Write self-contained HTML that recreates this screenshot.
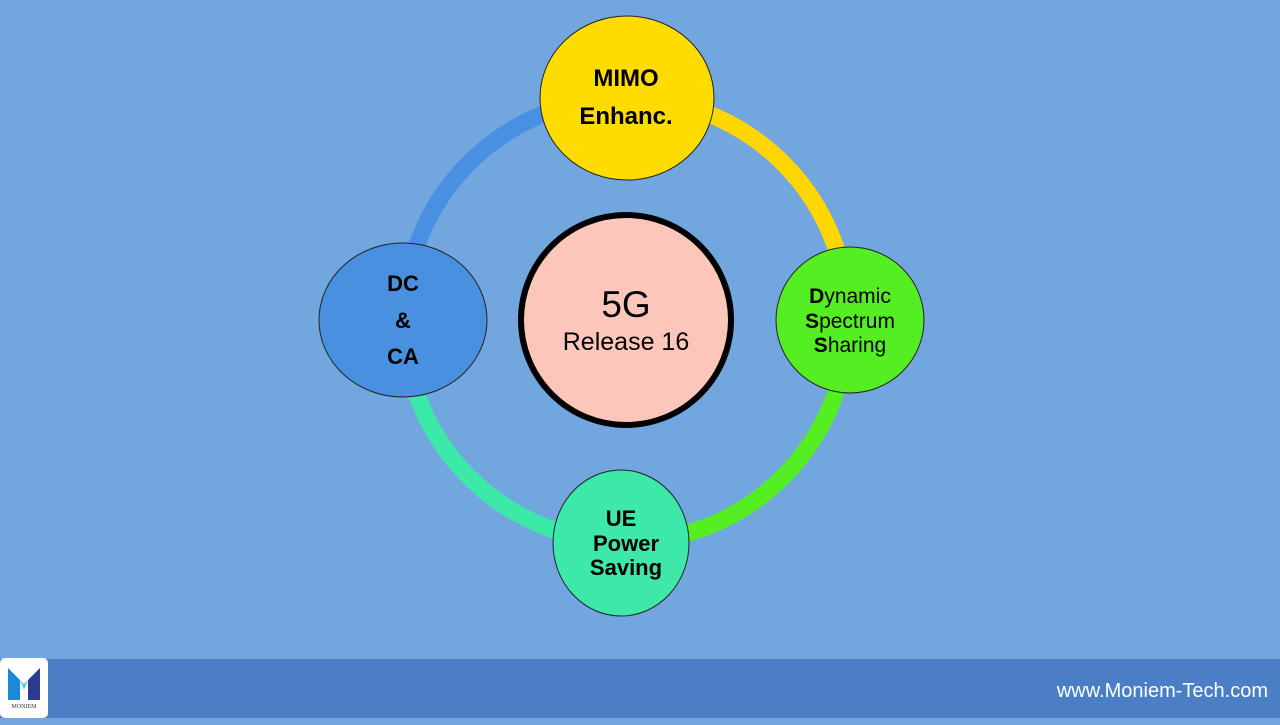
<!DOCTYPE html>
<html><head><meta charset="utf-8"><style>
html,body{margin:0;padding:0;}
body{width:1280px;height:720px;overflow:hidden;background:#72a6de;font-family:"Liberation Sans",sans-serif;}
</style></head><body>
<svg width="1280" height="720" viewBox="0 0 1280 720" xmlns="http://www.w3.org/2000/svg">
<rect width="1280" height="720" fill="#72a6de"/>
<g fill="none" stroke-width="17">
<path d="M404 320 A222 222 0 0 1 626 98" stroke="#4a90e2"/>
<path d="M626 98 A222 222 0 0 1 848 320" stroke="#ffd600"/>
<path d="M848 320 A222 222 0 0 1 626 542" stroke="#55ee22"/>
<path d="M626 542 A222 222 0 0 1 404 320" stroke="#3ceaa8"/>
</g>
<ellipse cx="627" cy="98" rx="87" ry="82" fill="#ffdc00" stroke="#222" stroke-width="1"/>
<ellipse cx="403" cy="320" rx="84" ry="77" fill="#4a90e0" stroke="#222" stroke-width="1"/>
<ellipse cx="850" cy="320" rx="74" ry="73" fill="#55ee22" stroke="#222" stroke-width="1"/>
<ellipse cx="621" cy="543" rx="68" ry="73" fill="#3de8a8" stroke="#222" stroke-width="1"/>
<circle cx="626" cy="320" r="105" fill="#fcc6bb" stroke="#000" stroke-width="6"/>
<g font-weight="bold" fill="#000" text-anchor="middle" font-size="24">
<text x="626" y="86">MIMO</text>
<text x="626" y="124">Enhanc.</text>
<text x="403" y="291" font-size="22">DC</text>
<text x="403" y="328" font-size="22">&amp;</text>
<text x="403" y="364" font-size="22">CA</text>
<text x="621" y="526" font-size="22">UE</text>
<text x="626" y="551" font-size="22">Power</text>
<text x="626" y="575" font-size="22">Saving</text>
</g>
<g fill="#000" text-anchor="middle" font-size="21">
<text x="850" y="303"><tspan font-weight="bold">D</tspan>ynamic</text>
<text x="850" y="328"><tspan font-weight="bold">S</tspan>pectrum</text>
<text x="850" y="352"><tspan font-weight="bold">S</tspan>haring</text>
<text x="626" y="317" font-size="37">5G</text>
<text x="626" y="350" font-size="25">Release 16</text>
</g>
<rect x="0" y="659" width="1280" height="59" fill="#4a7fc6"/>
<rect x="0" y="658" width="48" height="60" rx="5" fill="#fff"/>
<polygon points="8,668 20,680 20,700 8,700" fill="#1e88d8"/>
<polygon points="40,668 28,680 28,700 40,700" fill="#2a3a8c"/>
<polygon points="8,668 24,684 40,668 28,680 24,690 20,680" fill="#5ec8f0"/>
<text x="24" y="708" font-size="6" text-anchor="middle" fill="#333" font-family="Liberation Serif,serif">MONIEM</text>
<text x="1268" y="697" font-size="20" text-anchor="end" fill="#fff">www.Moniem-Tech.com</text>
</svg>
</body></html>
